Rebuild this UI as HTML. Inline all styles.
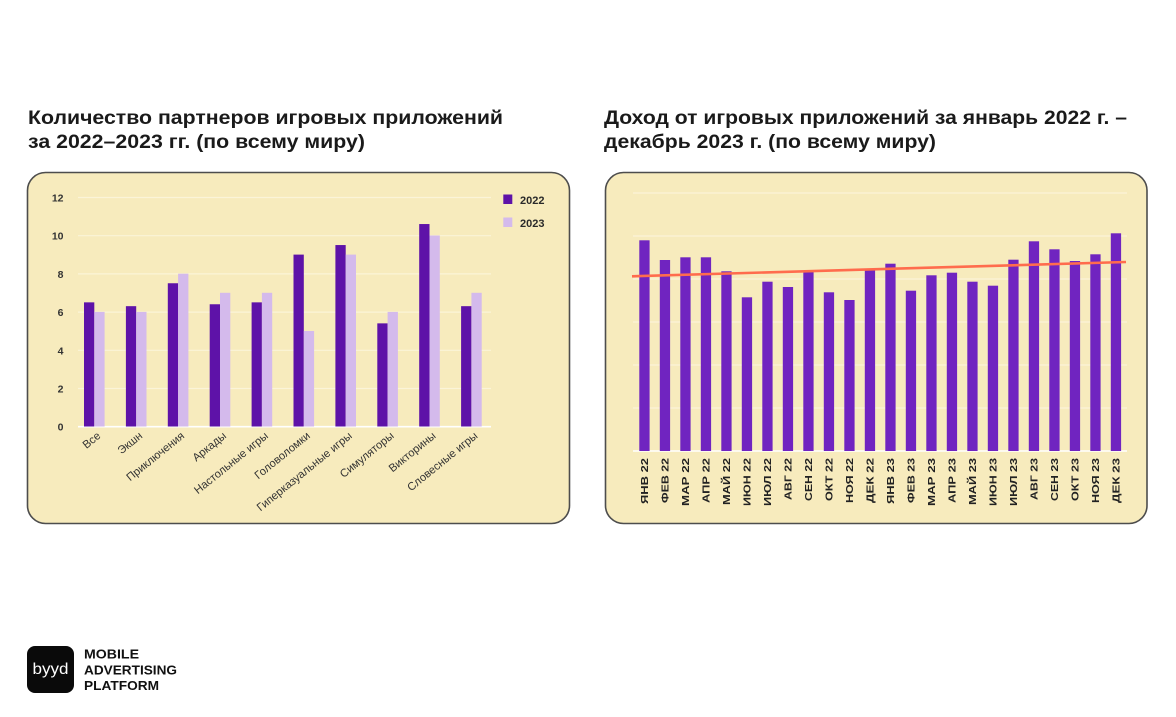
<!DOCTYPE html>
<html><head><meta charset="utf-8"><style>
html,body{margin:0;padding:0;background:#fff;}
svg{display:block;}
text{font-family:"Liberation Sans","DejaVu Sans",sans-serif;}
</style></head><body>
<svg width="1176" height="717" viewBox="0 0 1176 717" xmlns="http://www.w3.org/2000/svg">
<rect width="1176" height="717" fill="#fff"/>
<!-- Titles -->
<g font-weight="bold" font-size="19" fill="#1a1a1a">
<text x="28" y="124" textLength="475" lengthAdjust="spacingAndGlyphs">Количество партнеров игровых приложений</text>
<text x="28" y="148" textLength="337" lengthAdjust="spacingAndGlyphs">за 2022–2023 гг. (по всему миру)</text>
<text x="604" y="124" textLength="523" lengthAdjust="spacingAndGlyphs">Доход от игровых приложений за январь 2022 г. –</text>
<text x="604" y="148" textLength="332" lengthAdjust="spacingAndGlyphs">декабрь 2023 г. (по всему миру)</text>
</g>

<!-- Left panel -->
<rect x="27.5" y="172.5" width="542" height="351" rx="18" fill="#f7ebbd" stroke="#4d4d4d" stroke-width="1.6"/>
<g stroke="#fbf4d8" stroke-width="1.2">
<line x1="78" y1="197.5" x2="491" y2="197.5"/>
<line x1="78" y1="235.7" x2="491" y2="235.7"/>
<line x1="78" y1="273.9" x2="491" y2="273.9"/>
<line x1="78" y1="312.1" x2="491" y2="312.1"/>
<line x1="78" y1="350.3" x2="491" y2="350.3"/>
<line x1="78" y1="388.5" x2="491" y2="388.5"/>
</g>
<line x1="78" y1="426.7" x2="491" y2="426.7" stroke="#ffffff" stroke-width="1.6"/>
<g font-size="10.5" font-weight="bold" fill="#333" text-anchor="end">
<text x="63.5" y="201.5">12</text>
<text x="63.5" y="239.7">10</text>
<text x="63.5" y="277.9">8</text>
<text x="63.5" y="316.1">6</text>
<text x="63.5" y="354.3">4</text>
<text x="63.5" y="392.5">2</text>
<text x="63.5" y="430.7">0</text>
</g>
<g fill="#5e12a8">
<rect x="84" y="302.35" width="10.3" height="124.15"/>
<rect x="125.9" y="306.17" width="10.3" height="120.33"/>
<rect x="167.8" y="283.25" width="10.3" height="143.25"/>
<rect x="209.7" y="304.26" width="10.3" height="122.24"/>
<rect x="251.6" y="302.35" width="10.3" height="124.15"/>
<rect x="293.5" y="254.6" width="10.3" height="171.9"/>
<rect x="335.4" y="245.05" width="10.3" height="181.45"/>
<rect x="377.3" y="323.36" width="10.3" height="103.14"/>
<rect x="419.2" y="224.04" width="10.3" height="202.46"/>
<rect x="461.1" y="306.17" width="10.3" height="120.33"/>
</g>
<g fill="#d4baec">
<rect x="94.3" y="311.9" width="10.3" height="114.6"/>
<rect x="136.2" y="311.9" width="10.3" height="114.6"/>
<rect x="178.1" y="273.7" width="10.3" height="152.8"/>
<rect x="220.0" y="292.8" width="10.3" height="133.7"/>
<rect x="261.9" y="292.8" width="10.3" height="133.7"/>
<rect x="303.8" y="331.0" width="10.3" height="95.5"/>
<rect x="345.7" y="254.6" width="10.3" height="171.9"/>
<rect x="387.6" y="311.9" width="10.3" height="114.6"/>
<rect x="429.5" y="235.5" width="10.3" height="191"/>
<rect x="471.4" y="292.8" width="10.3" height="133.7"/>
</g>
<g font-size="11.2" fill="#333" text-anchor="end">
<text transform="translate(101.3,437) rotate(-39)">Все</text>
<text transform="translate(143.2,437) rotate(-39)">Экшн</text>
<text transform="translate(185.1,437) rotate(-39)">Приключения</text>
<text transform="translate(227,437) rotate(-39)">Аркады</text>
<text transform="translate(268.9,437) rotate(-39)">Настольные игры</text>
<text transform="translate(310.8,437) rotate(-39)">Головоломки</text>
<text transform="translate(352.7,437) rotate(-39)">Гиперказуальные игры</text>
<text transform="translate(394.6,437) rotate(-39)">Симуляторы</text>
<text transform="translate(436.5,437) rotate(-39)">Викторины</text>
<text transform="translate(478.4,437) rotate(-39)">Словесные игры</text>
</g>
<!-- Legend -->
<rect x="503.3" y="194.5" width="9" height="9.5" fill="#5e12a8"/>
<rect x="503.3" y="217.5" width="9" height="9.5" fill="#d4baec"/>
<g font-size="11" font-weight="bold" fill="#2a2a2a">
<text x="520" y="204">2022</text>
<text x="520" y="227">2023</text>
</g>

<!-- Right panel -->
<rect x="605.5" y="172.5" width="541.5" height="351" rx="18" fill="#f7ebbd" stroke="#4d4d4d" stroke-width="1.6"/>
<g stroke="#fbf4d8" stroke-width="1.2">
<line x1="633" y1="193" x2="1127" y2="193"/>
<line x1="633" y1="236" x2="1127" y2="236"/>
<line x1="633" y1="279" x2="1127" y2="279"/>
<line x1="633" y1="322" x2="1127" y2="322"/>
<line x1="633" y1="365" x2="1127" y2="365"/>
<line x1="633" y1="408" x2="1127" y2="408"/>
</g>
<line x1="633" y1="451" x2="1127" y2="451" stroke="#ffffff" stroke-width="1.4"/>
<g fill="#7024c0">
<rect x="639.3" y="240.3" width="10.3" height="210.7"/>
<rect x="659.8" y="260" width="10.3" height="191"/>
<rect x="680.3" y="257.3" width="10.3" height="193.7"/>
<rect x="700.8" y="257.3" width="10.3" height="193.7"/>
<rect x="721.3" y="271.3" width="10.3" height="179.7"/>
<rect x="741.8" y="297.3" width="10.3" height="153.7"/>
<rect x="762.3" y="281.7" width="10.3" height="169.3"/>
<rect x="782.8" y="287" width="10.3" height="164"/>
<rect x="803.3" y="272" width="10.3" height="179"/>
<rect x="823.8" y="292.3" width="10.3" height="158.7"/>
<rect x="844.3" y="300" width="10.3" height="151"/>
<rect x="864.8" y="270" width="10.3" height="181"/>
<rect x="885.3" y="263.7" width="10.3" height="187.3"/>
<rect x="905.8" y="290.7" width="10.3" height="160.3"/>
<rect x="926.3" y="275.3" width="10.3" height="175.7"/>
<rect x="946.8" y="272.7" width="10.3" height="178.3"/>
<rect x="967.3" y="281.7" width="10.3" height="169.3"/>
<rect x="987.8" y="285.7" width="10.3" height="165.3"/>
<rect x="1008.3" y="259.7" width="10.3" height="191.3"/>
<rect x="1028.8" y="241.3" width="10.3" height="209.7"/>
<rect x="1049.3" y="249.3" width="10.3" height="201.7"/>
<rect x="1069.8" y="261" width="10.3" height="190"/>
<rect x="1090.3" y="254.3" width="10.3" height="196.7"/>
<rect x="1110.8" y="233.3" width="10.3" height="217.7"/>
</g>
<line x1="632" y1="276.3" x2="1126" y2="262" stroke="#ff6c4d" stroke-width="2.6"/>
<g font-size="10" font-weight="bold" fill="#222" text-anchor="end">
<text transform="translate(648.2,458) rotate(-90)" textLength="46" lengthAdjust="spacingAndGlyphs">ЯНВ 22</text>
<text transform="translate(668.7,458) rotate(-90)" textLength="45" lengthAdjust="spacingAndGlyphs">ФЕВ 22</text>
<text transform="translate(689.2,458) rotate(-90)" textLength="48" lengthAdjust="spacingAndGlyphs">МАР 22</text>
<text transform="translate(709.7,458) rotate(-90)" textLength="45" lengthAdjust="spacingAndGlyphs">АПР 22</text>
<text transform="translate(730.2,458) rotate(-90)" textLength="47" lengthAdjust="spacingAndGlyphs">МАЙ 22</text>
<text transform="translate(750.7,458) rotate(-90)" textLength="48" lengthAdjust="spacingAndGlyphs">ИЮН 22</text>
<text transform="translate(771.2,458) rotate(-90)" textLength="48" lengthAdjust="spacingAndGlyphs">ИЮЛ 22</text>
<text transform="translate(791.7,458) rotate(-90)" textLength="42" lengthAdjust="spacingAndGlyphs">АВГ 22</text>
<text transform="translate(812.2,458) rotate(-90)" textLength="43" lengthAdjust="spacingAndGlyphs">СЕН 22</text>
<text transform="translate(832.7,458) rotate(-90)" textLength="43" lengthAdjust="spacingAndGlyphs">ОКТ 22</text>
<text transform="translate(853.2,458) rotate(-90)" textLength="45" lengthAdjust="spacingAndGlyphs">НОЯ 22</text>
<text transform="translate(873.7,458) rotate(-90)" textLength="45" lengthAdjust="spacingAndGlyphs">ДЕК 22</text>
<text transform="translate(894.2,458) rotate(-90)" textLength="46" lengthAdjust="spacingAndGlyphs">ЯНВ 23</text>
<text transform="translate(914.7,458) rotate(-90)" textLength="45" lengthAdjust="spacingAndGlyphs">ФЕВ 23</text>
<text transform="translate(935.2,458) rotate(-90)" textLength="48" lengthAdjust="spacingAndGlyphs">МАР 23</text>
<text transform="translate(955.7,458) rotate(-90)" textLength="45" lengthAdjust="spacingAndGlyphs">АПР 23</text>
<text transform="translate(976.2,458) rotate(-90)" textLength="47" lengthAdjust="spacingAndGlyphs">МАЙ 23</text>
<text transform="translate(996.7,458) rotate(-90)" textLength="48" lengthAdjust="spacingAndGlyphs">ИЮН 23</text>
<text transform="translate(1017.2,458) rotate(-90)" textLength="48" lengthAdjust="spacingAndGlyphs">ИЮЛ 23</text>
<text transform="translate(1037.7,458) rotate(-90)" textLength="42" lengthAdjust="spacingAndGlyphs">АВГ 23</text>
<text transform="translate(1058.2,458) rotate(-90)" textLength="43" lengthAdjust="spacingAndGlyphs">СЕН 23</text>
<text transform="translate(1078.7,458) rotate(-90)" textLength="43" lengthAdjust="spacingAndGlyphs">ОКТ 23</text>
<text transform="translate(1099.2,458) rotate(-90)" textLength="45" lengthAdjust="spacingAndGlyphs">НОЯ 23</text>
<text transform="translate(1119.7,458) rotate(-90)" textLength="45" lengthAdjust="spacingAndGlyphs">ДЕК 23</text>
</g>

<!-- Logo -->
<rect x="27" y="646" width="47" height="47" rx="8" fill="#0a0a0a"/>
<text x="50.5" y="674" font-size="16" fill="#fff" text-anchor="middle" textLength="36" lengthAdjust="spacingAndGlyphs">byyd</text>
<g font-size="12.5" font-weight="bold" fill="#111">
<text x="84" y="658.5" textLength="55" lengthAdjust="spacingAndGlyphs">MOBILE</text>
<text x="84" y="674.3" textLength="93" lengthAdjust="spacingAndGlyphs">ADVERTISING</text>
<text x="84" y="690" textLength="75" lengthAdjust="spacingAndGlyphs">PLATFORM</text>
</g>
</svg>
</body></html>
